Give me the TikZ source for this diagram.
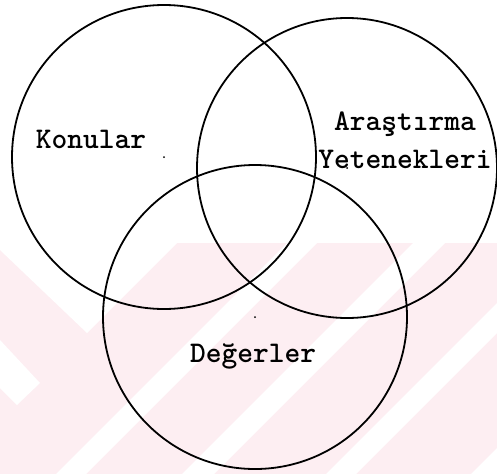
\documentclass[tikz,border=0pt]{standalone}
\usepackage{fontspec}
\usetikzlibrary{positioning}
\definecolor{wmpink}{HTML}{FDEEF2}
\begin{document}
\begin{tikzpicture}[x=1pt, y=-1pt, font=\ttfamily\bfseries\fontsize{30}{38}\selectfont]
\tikzstyle{ring}=[draw, circle, line width=1.8pt, inner sep=0pt]
\tikzstyle{centremark}=[fill, circle, inner sep=0pt, minimum size=2pt]
\tikzstyle{ringlabel}=[align=center, inner sep=0pt]
\useasboundingbox (0,0) rectangle (497,474);
% watermark
\begin{scope}
\clip (0,0) rectangle (497,474);
\fill[wmpink] (0,243) rectangle (497,474);
\fill[white] (0,243) -- (177,243) -- (87,333) -- (0,250) -- cycle;
\fill[white] (0,340) -- (40,383) -- (17,405) -- (0,388) -- cycle;
\foreach \a/\b in {530/560, 656/688, 800/830, 945/975}
  \fill[white] (\a-243,243) -- (\b-243,243) -- (\b-474,474) -- (\a-474,474) -- cycle;
\end{scope}
% circles
\node[ring, minimum size=304pt] (konu) at (164,157) {};
\node[ring, minimum size=300pt] (arastirma) at (347,168) {};
\node[ring, minimum size=304pt] (deger) at (255,317) {};
\node[centremark] at (konu.center) {};
\node[centremark] at (arastirma.center) {};
\node[centremark] at (deger.center) {};
% texts
\node[ringlabel] (konutext) at (91,139) {Konular};
\node[ringlabel] (arastirmatext) at (405,140) {Araştırma\\Yetenekleri};
\node[ringlabel] (degertext) at (253,356) {Değerler};
\end{tikzpicture}
\end{document}
